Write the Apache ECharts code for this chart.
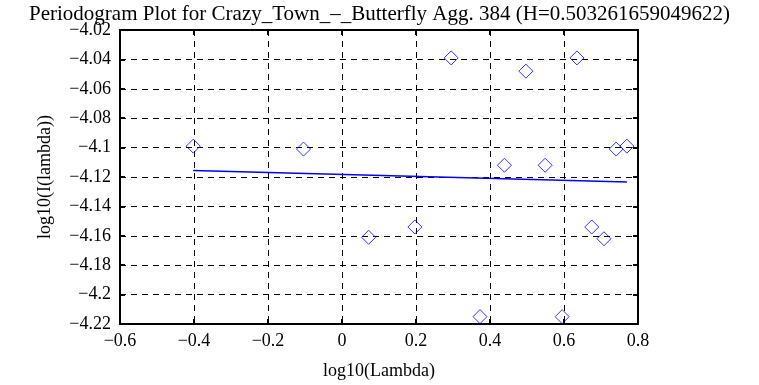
<!DOCTYPE html>
<html>
<head>
<meta charset="utf-8">
<script src="https://cdn.jsdelivr.net/npm/echarts@6/dist/echarts.min.js"></script>
<style>html,body{margin:0;padding:0;background:#fff;}#c{width:759px;height:385px;}</style>
</head>
<body>
<div id="c"></div>
<script>
const titleText = 'Periodogram Plot for Crazy_Town_\u2013_Butterfly Agg. 384 (H=0.503261659049622)';
const xLabel = 'log10(Lambda)';
const yLabel = 'log10(I(lambda))';
const pointX = [-0.402, -0.104, 0.072, 0.197, 0.295, 0.373, 0.439, 0.497, 0.549, 0.595, 0.635, 0.675, 0.708, 0.741, 0.770];
const pointY = [-4.099, -4.101, -4.161, -4.154, -4.039, -4.215, -4.112, -4.048, -4.112, -4.215, -4.039, -4.154, -4.162, -4.101, -4.099];
const fitX = [-0.402, 0.770];
const fitY = [-4.1155, -4.1234];
const xTicks = {min: -0.6, max: 0.8, interval: 0.2};
const yTicks = {min: -4.22, max: -4.02, interval: 0.02};

const fmt = v => String(+(+v).toFixed(2)).replace('-', '\u2212');
const font = 'Liberation Serif';
const chart = echarts.init(document.getElementById('c'), null, {renderer: 'canvas'});
const axisCommon = {
  axisLine: {show: true, onZero: false, lineStyle: {color: '#000', width: 2}},
  axisTick: {show: true, inside: true, length: 5, lineStyle: {color: '#000', width: 2}},
};
chart.setOption({
  animation: false,
  backgroundColor: '#fff',
  title: {text: titleText, left: 'center', top: -1, textStyle: {fontFamily: font, fontWeight: 'normal', fontSize: 21, color: '#000'}},
  grid: {left: 120, right: 121, top: 30, bottom: 57, containLabel: false},
  xAxis: [
    Object.assign({type: 'value', position: 'bottom', min: xTicks.min, max: xTicks.max, interval: xTicks.interval,
      name: xLabel, nameLocation: 'middle', nameGap: 38, nameTextStyle: {fontFamily: font, fontSize: 18, color: '#000'},
      axisLabel: {formatter: fmt, fontFamily: font, fontSize: 18, color: '#000', margin: 8},
      splitLine: {show: true, lineStyle: {color: '#000', type: [6, 5], width: 1}}}, axisCommon),
    Object.assign({type: 'value', position: 'top', min: xTicks.min, max: xTicks.max, interval: xTicks.interval,
      axisLabel: {show: false}, splitLine: {show: false}}, axisCommon)
  ],
  yAxis: [
    Object.assign({type: 'value', position: 'left', min: yTicks.min, max: yTicks.max, interval: yTicks.interval,
      name: yLabel, nameLocation: 'middle', nameGap: 66, nameTextStyle: {fontFamily: font, fontSize: 18, color: '#000'},
      axisLabel: {formatter: fmt, fontFamily: font, fontSize: 18, color: '#000', margin: 9},
      splitLine: {show: true, lineStyle: {color: '#000', type: [6, 5], width: 1}}}, axisCommon),
    Object.assign({type: 'value', position: 'right', min: yTicks.min, max: yTicks.max, interval: yTicks.interval,
      axisLabel: {show: false}, splitLine: {show: false}}, axisCommon)
  ],
  series: [
    {type: 'scatter', data: pointX.map((x, i) => [x, pointY[i]]), symbol: 'diamond', symbolSize: 14,
      itemStyle: {color: 'rgba(0,0,0,0)', borderColor: '#0000ff', borderWidth: 1}, z: 3},
    {type: 'line', data: fitX.map((x, i) => [x, fitY[i]]), symbol: 'none', lineStyle: {color: '#0000ff', width: 1.5}, z: 2}
  ]
});
</script>
</body>
</html>
